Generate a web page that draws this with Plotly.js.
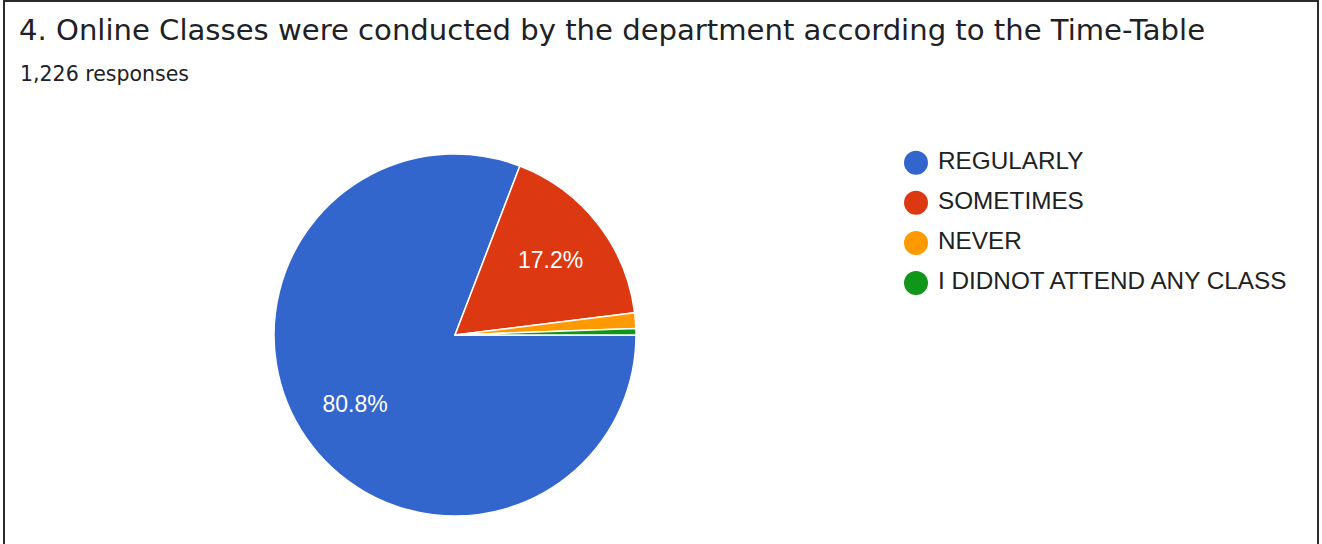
<!DOCTYPE html>
<html>
<head>
<meta charset="utf-8">
<script src="https://cdn.plot.ly/plotly-3.0.1.min.js"></script>
<style>
  html, body { margin: 0; padding: 0; background: #fff; overflow: hidden; }
  #wrap { position: relative; width: 1322px; height: 544px; overflow: hidden; }
  #chart { position: absolute; left: 0; top: 0; width: 1322px; height: 544px; }
  #frame { position: absolute; left: 3px; top: 0; width: 1312px; height: 600px;
           border-left: 2px solid #2b2b2b; border-top: 2px solid #2b2b2b; border-right: 2px solid #2b2b2b;
           pointer-events: none; }
</style>
</head>
<body>
<div id="wrap">
  <div id="chart"></div>
  <div id="frame"></div>
</div>
<script>
// ---- data ----
const titleText = "4. Online Classes were conducted by the department according to the Time-Table";
const subtitleText = "1,226 responses";
const categories = ["REGULARLY", "SOMETIMES", "NEVER", "I DIDNOT ATTEND ANY CLASS"];
const counts = [991, 211, 17, 7];
const colors = ["#3366CC", "#DC3912", "#FF9900", "#109618"];

// ---- layout constants ----
const W = 1322, H = 544;
const cx = 455, cy = 335, R = 181;
const legendMarkerX = 916, legendTextX = 938, legendTopY = 162.7, legendStep = 40.1;

const total = counts.reduce((a, b) => a + b, 0);
const pieDomain = { x: [(cx - R) / W, (cx + R) / W], y: [(H - cy - R) / H, (H - cy + R) / H] };

// coloured slices
const pie = {
  type: "pie",
  values: counts,
  labels: categories,
  sort: false,
  direction: "clockwise",
  rotation: 90,
  marker: { colors: colors, line: { color: "#ffffff", width: 1.5 } },
  textinfo: "none",
  domain: pieDomain,
  showlegend: false,
  hoverinfo: "skip"
};

// percentage labels (transparent ring so the labels sit at ~2/3 of the radius)
const pieLabels = {
  type: "pie",
  values: counts,
  labels: categories,
  sort: false,
  direction: "clockwise",
  rotation: 90,
  hole: 0.34,
  marker: { colors: categories.map(() => "rgba(0,0,0,0)"), line: { width: 0 } },
  textposition: counts.map(v => v / total > 0.05 ? "inside" : "none"),
  texttemplate: "%{percent:.1%}",
  insidetextorientation: "horizontal",
  textfont: { family: "Liberation Sans, Arial, sans-serif", size: 23, color: "#ffffff" },
  domain: pieDomain,
  showlegend: false,
  hoverinfo: "skip"
};

const idx = categories.map((c, i) => i);
const legendMarkers = {
  type: "scatter",
  mode: "markers",
  x: categories.map(() => 0),
  y: idx,
  marker: { size: 24, color: colors, line: { width: 0 } },
  xaxis: "x", yaxis: "y",
  showlegend: false, hoverinfo: "skip"
};
const legendTexts = {
  type: "scatter",
  mode: "text",
  x: categories.map(() => 0),
  y: idx,
  text: categories,
  textposition: "middle right",
  textfont: { family: "Liberation Sans, Arial, sans-serif", size: 24.3, color: "#212121" },
  xaxis: "x2", yaxis: "y",
  showlegend: false, hoverinfo: "skip"
};

const yTop = -legendTopY / legendStep;
const yBottom = yTop + H / legendStep;
const hidden = { visible: false, showgrid: false, zeroline: false, fixedrange: true };

const layout = {
  width: W, height: H,
  margin: { l: 0, r: 0, t: 0, b: 0, pad: 0 },
  paper_bgcolor: "#ffffff", plot_bgcolor: "rgba(0,0,0,0)",
  showlegend: false,
  hovermode: false,
  title: {
    text: titleText,
    font: { family: "DejaVu Sans, sans-serif", size: 29.1, color: "#202124" },
    x: 19 / W, xanchor: "left", xref: "paper",
    y: 1 - 30 / H, yanchor: "middle", yref: "container"
  },
  annotations: [{
    text: subtitleText, showarrow: false,
    xref: "paper", yref: "paper", x: 18 / W, y: 1 - 74 / H,
    xanchor: "left", yanchor: "middle",
    font: { family: "DejaVu Sans, sans-serif", size: 20.5, color: "#202124" }
  }],
  xaxis: Object.assign({ domain: [0, 1], range: [-legendMarkerX, W - legendMarkerX] }, hidden),
  xaxis2: Object.assign({ domain: [0, 1], range: [-legendTextX, W - legendTextX], overlaying: "x", anchor: "y" }, hidden),
  yaxis: Object.assign({ domain: [0, 1], range: [yBottom, yTop] }, hidden)
};

Plotly.newPlot("chart", [pie, pieLabels, legendMarkers, legendTexts], layout, { displayModeBar: false, staticPlot: true });
</script>
</body>
</html>
